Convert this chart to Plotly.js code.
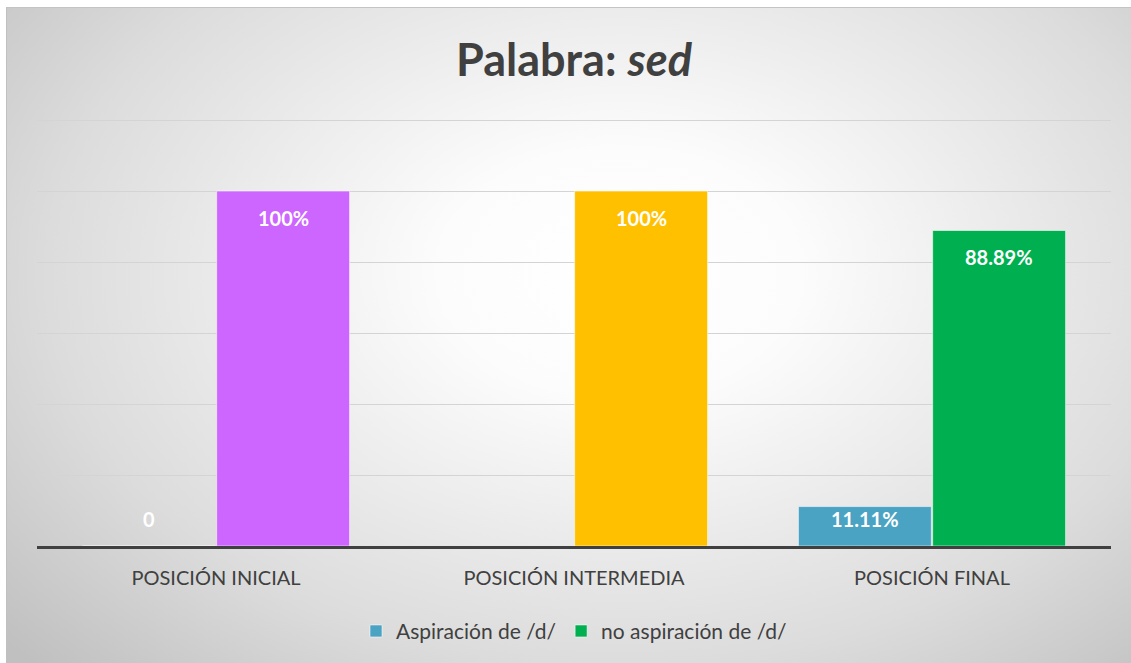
<!DOCTYPE html>
<html>
<head>
<meta charset="utf-8">
<script src="https://cdn.plot.ly/plotly-3.0.1.min.js"></script>
<style>
  html, body { margin: 0; padding: 0; background: #ffffff; }
  #wrap { position: relative; width: 1131px; height: 663px; overflow: hidden; }
  #bg { position: absolute; left: 6px; top: 7px; width: 1135px; height: 660px;
        background: radial-gradient(ellipse 72% 85% at 54% 40%, #ffffff 0%, #fcfcfc 22%, #dcdcdc 70%, #c0c0c0 100%);
        border-left: 1px solid #c0c0c0; border-top: 1px solid #c4c4c4; }
  #chart { position: absolute; left: 0; top: 0; width: 1131px; height: 663px; }
</style>
</head>
<body>
<div id="wrap">
  <div id="bg"></div>
  <div id="chart"></div>
</div>
<script>
const categories = ['POSICIÓN INICIAL', 'POSICIÓN INTERMEDIA', 'POSICIÓN FINAL'];
const seriesNames = ['Aspiración de /d/', 'no aspiración de /d/'];
const aspiracion = [0, null, 11.11];
const noAspiracion = [100, 100, 88.89];
const labelsAspiracion = ['0', '', '11.11%'];
const labelsNoAspiracion = ['100%', '100%', '88.89%'];
const colorAspiracion = '#4BA3C3';
const colorsNoAspiracion = ['#CC66FF', '#FFC000', '#00B050'];
const colorNoAspiracionLegend = '#00B050';

const FONT = 'Lato, "Open Sans", sans-serif';
const barLine = { color: 'rgba(255,255,255,0.55)', width: 1 };

const traces = [
  {
    type: 'bar', name: seriesNames[0], x: categories, y: aspiracion,
    marker: { color: colorAspiracion, line: barLine },
    offsetgroup: 'a', hoverinfo: 'skip'
  },
  {
    type: 'bar', name: seriesNames[1], x: categories, y: noAspiracion,
    marker: { color: colorsNoAspiracion, line: barLine },
    offsetgroup: 'b', showlegend: false, hoverinfo: 'skip'
  },
  {
    type: 'bar', name: seriesNames[1], x: [categories[0]], y: [null],
    marker: { color: colorNoAspiracionLegend, line: barLine },
    offsetgroup: 'b', showlegend: true, hoverinfo: 'skip'
  }
];

const annotations = [];
const labelFont = { family: FONT, size: 20, color: '#ffffff', weight: 'bold' };
const half = 67;
aspiracion.forEach((v, i) => {
  if (v === null) return;
  annotations.push({
    x: categories[i], y: v, xref: 'x', yref: 'y', text: labelsAspiracion[i],
    showarrow: false, xshift: -half, yshift: v === 0 ? 27 : -12, yanchor: 'middle',
    font: labelFont
  });
});
noAspiracion.forEach((v, i) => {
  annotations.push({
    x: categories[i], y: v, xref: 'x', yref: 'y', text: labelsNoAspiracion[i],
    showarrow: false, xshift: half, yshift: -27, yanchor: 'middle',
    font: labelFont
  });
});

const layout = {
  width: 1131, height: 663,
  paper_bgcolor: 'rgba(0,0,0,0)', plot_bgcolor: 'rgba(0,0,0,0)',
  margin: { l: 37, r: 20, t: 119, b: 116 },
  font: { family: FONT, color: '#404040' },
  title: {
    text: '<b>Palabra: <i>sed</i></b>',
    font: { family: FONT, size: 45, color: '#404040' },
    x: 0.5, xanchor: 'center', xref: 'paper',
    y: 1 - 60 / 663, yanchor: 'middle', yref: 'container'
  },
  barmode: 'group', bargap: 0.25, bargroupgap: 0.01,
  xaxis: {
    type: 'category', showline: true, linecolor: '#404040', linewidth: 3,
    ticks: '', showgrid: false, zeroline: false, ticklabelstandoff: 12,
    tickfont: { family: FONT, size: 20, color: '#404040' }, fixedrange: true
  },
  yaxis: {
    range: [0, 120.3], tick0: 0, dtick: 20, showticklabels: false, showgrid: true,
    gridcolor: '#d4d4d4', gridwidth: 1, zeroline: false, showline: false, fixedrange: true
  },
  showlegend: true,
  legend: {
    orientation: 'h', x: 0.5, xanchor: 'center', y: -0.197, yanchor: 'middle',
    font: { family: FONT, size: 21, color: '#404040' }, bgcolor: 'rgba(0,0,0,0)',
    itemclick: false, itemdoubleclick: false, itemwidth: 30
  },
  annotations: annotations
};

Plotly.newPlot('chart', traces, layout, { displayModeBar: false, staticPlot: true });
</script>
</body>
</html>
